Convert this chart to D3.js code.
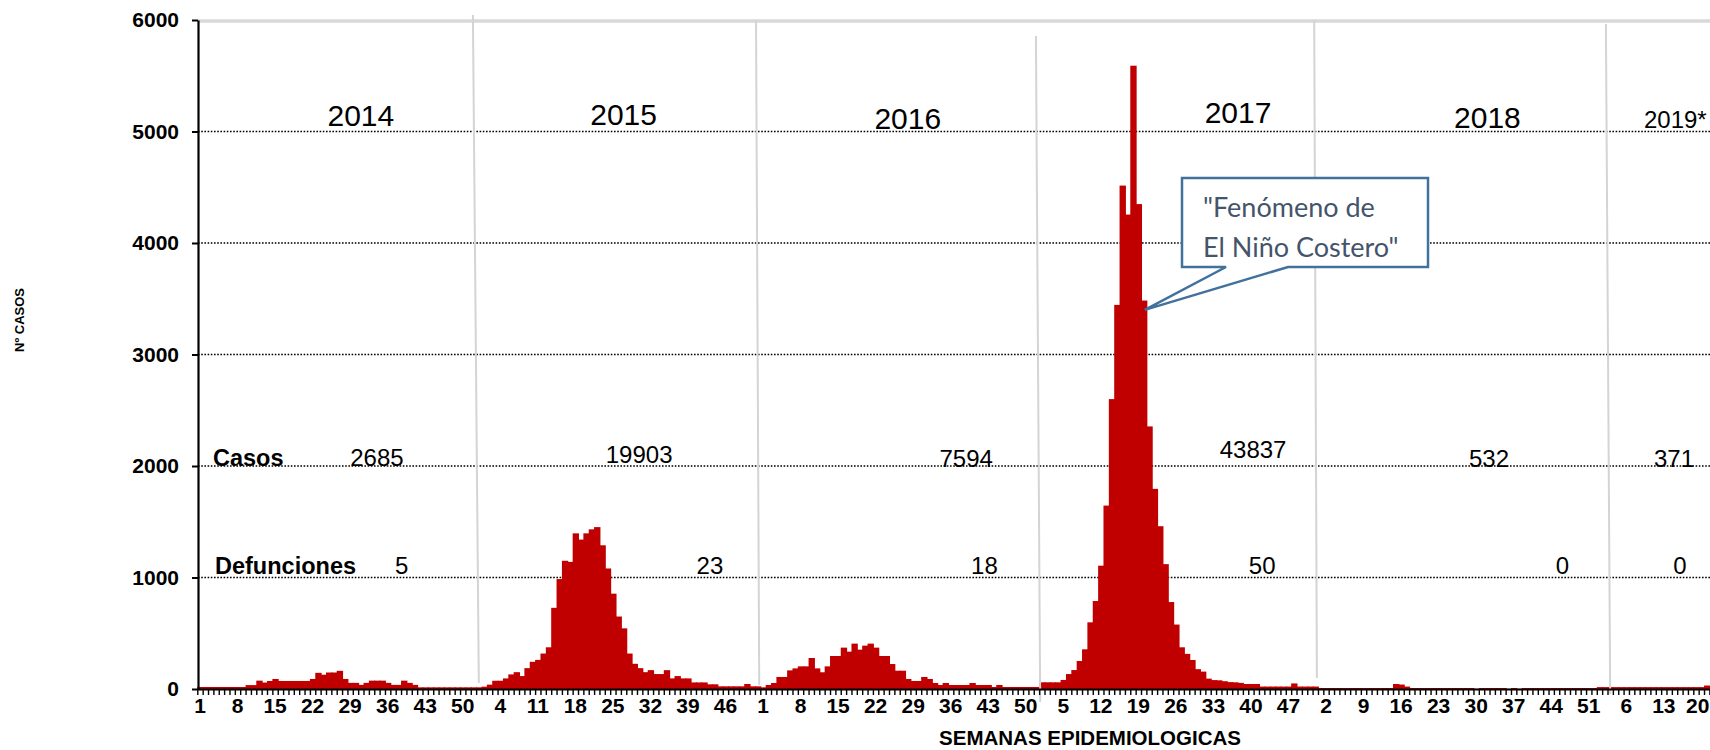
<!DOCTYPE html>
<html><head><meta charset="utf-8">
<script src="https://cdn.jsdelivr.net/npm/d3@7/dist/d3.min.js"></script>
<style>
html,body{margin:0;padding:0;background:#fff;overflow:hidden}
svg{display:block}
</style></head><body>
<svg id="chart" width="1710" height="750"></svg>
<script>
// ---------------- DATA ----------------
const years = ["2014", "2015", "2016", "2017", "2018", "2019*"];
const cases2014 = [18,18,18,18,18,18,18,18,18,35,35,75,58,72,90,72,72,72,72,72,72,90,145,128,148,148,163,90,55,55,37,55,75,75,75,55,37,37,75,55,37,15,15,15,15,15,15,15,15,15,15,15,15];
const cases2015 = [21,39,74,74,95,131,151,116,187,244,261,318,374,728,986,1150,1140,1396,1340,1396,1432,1452,1289,1081,855,650,544,318,226,187,151,169,134,134,169,95,116,95,95,59,59,59,42,42,24,24,24,24,24,45,24,24];
const cases2016 = [15,36,54,108,108,167,185,203,203,278,185,150,203,296,296,371,335,407,353,389,407,371,296,296,224,164,164,90,72,72,108,90,54,36,54,36,36,36,36,54,36,36,36,18,36,18,18,18,18,18,18,18];
const cases2017 = [60,60,60,60,81,134,170,251,356,598,789,1106,1645,2600,3445,4515,4255,5590,4349,3484,2355,1795,1460,1120,780,578,374,315,260,178,156,93,80,78,70,62,60,55,45,45,45,22,22,22,22,22,22,50,22,22,22,22];
const cases2018 = [9,9,9,9,9,9,9,9,9,9,9,9,9,9,45,40,22,9,9,9,9,9,9,9,9,9,9,9,9,2,9,9,9,9,9,2,9,2,9,9,9,9,9,9,9,9,9,9,9,9,9,9];
const cases2019 = [17,17,17,17,17,17,17,17,17,17,17,17,17,17,17,17,17,17,17,17,31];
const totalCases = ["2685", "19903", "7594", "43837", "532", "371"];
const totalDeaths = ["5", "23", "18", "50", "0", "0"];
const yTicks = [0, 1000, 2000, 3000, 4000, 5000, 6000];
const rowLabels = ["Casos", "Defunciones"];
const calloutLines = ['"Fenómeno de', 'El Niño Costero"'];
const xTitle = "SEMANAS EPIDEMIOLOGICAS";
const yTitle = "Nº CASOS";

// ---------------- BUILD ----------------
const series = [cases2014, cases2015, cases2016, cases2017, cases2018, cases2019];
const data = [];
const yearStart = [];
series.forEach((arr, yi) => {
  yearStart.push(data.length);
  arr.forEach((v, wi) => data.push({ year: yi, week: wi + 1, value: v, idx: data.length }));
});
const N = data.length;

// layout (pixels)
const L = { left: 197.3, step: 5.362, base: 689, top: 20, axisX: 198, right: 1710 };
const FONT = "'Liberation Sans', Arial, sans-serif";

const svg = d3.select("#chart");
const x = d3.scaleBand().domain(d3.range(N)).range([L.left, L.left + N * L.step]).padding(0);
const xl = d3.scaleLinear().domain([0, N]).range([L.left, L.left + N * L.step]);
const y = d3.scaleLinear().domain([0, 6000]).range([L.base, L.top]);

// top border
svg.append("line").attr("x1", L.axisX).attr("x2", L.right + 10)
  .attr("y1", y(6000) + 1).attr("y2", y(6000) + 1)
  .attr("stroke", "#d9d9d9").attr("stroke-width", 3.5);

// dotted gridlines
svg.append("g").selectAll("line").data(yTicks.filter(t => t > 0 && t < 6000)).join("line")
  .attr("x1", L.axisX).attr("x2", L.right + 10)
  .attr("y1", d => y(d)).attr("y2", d => y(d))
  .attr("stroke", "#000").attr("stroke-width", 1.6).attr("stroke-dasharray", "1.6,1.6");

// bars (slightly overlapping so no seams appear between neighbours)
svg.append("g").selectAll("rect").data(data).join("rect")
  .attr("x", d => x(d.idx)).attr("width", x.bandwidth() + 1)
  .attr("y", d => y(d.value)).attr("height", d => L.base - y(d.value))
  .attr("fill", "#c00000");

// year separators (hand-placed lines in original; offsets in weeks from boundary)
const sepLayout = [
  { at: 1, d1: -1.6, d2: -0.5, y1: 15, y2: 683 },
  { at: 2, d1: -0.8, d2: -0.2, y1: 20, y2: 685 },
  { at: 3, d1: -0.6, d2: 0.2, y1: 36, y2: 702 },
  { at: 4, d1: -0.7, d2: -0.2, y1: 20, y2: 678 },
  { at: 5, d1: 1.7, d2: 2.5, y1: 24, y2: 694 }
];
svg.append("g").selectAll("line").data(sepLayout).join("line")
  .attr("x1", d => xl(yearStart[d.at] + d.d1)).attr("x2", d => xl(yearStart[d.at] + d.d2))
  .attr("y1", d => d.y1).attr("y2", d => d.y2)
  .attr("stroke", "#d4d4d4").attr("stroke-width", 2);

// x axis: week ticks
const gx = svg.append("g").attr("transform", `translate(0,${L.base})`)
  .call(d3.axisBottom(xl).tickValues(d3.range(N + 1)).tickSize(6).tickSizeOuter(0).tickFormat(""));
gx.select(".domain").attr("stroke", "#000").attr("stroke-width", 2)
  .attr("d", `M${L.axisX},0.5H${L.right + 10}`);
gx.selectAll(".tick line").attr("stroke", "#000").attr("stroke-width", 1.4);

// x labels every 7 weeks
const labelIdx = d3.range(N).filter(i => i % 7 === 0);
const gxl = svg.append("g").attr("transform", `translate(0,${L.base})`)
  .call(d3.axisBottom(x).tickValues(labelIdx).tickSize(0).tickFormat(i => data[i].week).tickPadding(9));
gxl.select(".domain").remove();
gxl.selectAll("text").attr("font-family", FONT).attr("font-weight", "bold")
  .attr("font-size", 21).attr("fill", "#000");
// keep the last label inside the picture edge
gxl.selectAll("text").filter(i => i === labelIdx[labelIdx.length - 1])
  .attr("text-anchor", "end").attr("dx", 8);

// y axis
const gy = svg.append("g").attr("transform", `translate(${L.axisX},0)`)
  .call(d3.axisLeft(y).tickValues(yTicks).tickFormat(d3.format("d")).tickSize(6).tickSizeOuter(0).tickPadding(13));
gy.select(".domain").attr("stroke", "#000").attr("stroke-width", 2.2);
gy.selectAll(".tick line").attr("stroke", "#000").attr("stroke-width", 2);
gy.selectAll("text").attr("font-family", FONT).attr("font-weight", "bold")
  .attr("font-size", 21).attr("fill", "#000");

// axis titles
svg.append("text").attr("x", 1090).attr("y", 745).attr("text-anchor", "middle")
  .attr("font-family", FONT).attr("font-weight", "bold").attr("font-size", 20.5).text(xTitle);
svg.append("text").attr("transform", "translate(24,320) rotate(-90)").attr("text-anchor", "middle")
  .attr("font-family", FONT).attr("font-weight", "bold").attr("font-size", 13).text(yTitle);

// year labels (position in fractional week index)
const yearLabelPos = [30.5, 79.5, 132.5, 194.1, 240.6, 269.8];
svg.append("g").selectAll("text").data(years).join("text")
  .attr("x", (d, i) => xl(yearLabelPos[i]))
  .attr("y", (d, i) => [126, 125, 129, 123, 128, 128][i])
  .attr("text-anchor", (d, i) => i === 5 ? "start" : "middle")
  .attr("font-family", FONT).attr("font-size", (d, i) => i === 5 ? 24 : 30).attr("fill", "#000")
  .text(d => d);

// row labels
svg.append("text").attr("x", 213).attr("y", 466).attr("font-family", FONT).attr("font-weight", "bold")
  .attr("font-size", 23.5).text(rowLabels[0]);
svg.append("text").attr("x", 215).attr("y", 574).attr("font-family", FONT).attr("font-weight", "bold")
  .attr("font-size", 23.5).text(rowLabels[1]);

const casesPos = [33.5, 82.4, 143.4, 196.9, 240.9, 275.4];
const casesY = [466, 463, 467, 458, 467, 467];
svg.append("g").selectAll("text").data(totalCases).join("text")
  .attr("x", (d, i) => xl(casesPos[i])).attr("y", (d, i) => casesY[i])
  .attr("text-anchor", "middle").attr("font-family", FONT).attr("font-size", 24).text(d => d);
const deathsPos = [38.1, 95.6, 146.8, 198.6, 254.6, 276.5];
svg.append("g").selectAll("text").data(totalDeaths).join("text")
  .attr("x", (d, i) => xl(deathsPos[i])).attr("y", 574)
  .attr("text-anchor", "middle").attr("font-family", FONT).attr("font-size", 24).text(d => d);

// callout
const tip = { x: xl(176.7), y: y(3400) };
const box = { l: 1182, t: 178, r: 1428, b: 267, w1: 1226, w2: 1288 };
svg.append("path")
  .attr("d", `M${box.l},${box.t}H${box.r}V${box.b}H${box.w2}L${tip.x},${tip.y}L${box.w1},${box.b}H${box.l}Z`)
  .attr("fill", "#fff").attr("stroke", "#41719c").attr("stroke-width", 2.5).attr("stroke-linejoin", "miter");
svg.append("g").selectAll("text").data(calloutLines).join("text")
  .attr("x", 1203).attr("y", (d, i) => 217 + i * 40)
  .attr("font-family", "Lato, 'Open Sans', sans-serif").attr("font-size", 27).attr("fill", "#44546a")
  .text(d => d);
</script>
</body></html>
